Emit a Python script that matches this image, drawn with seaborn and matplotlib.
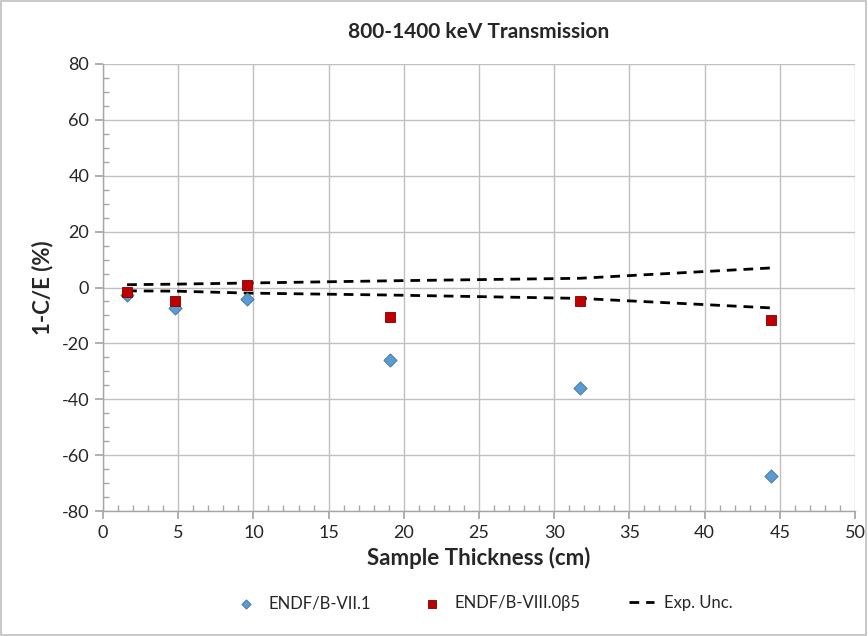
import matplotlib
matplotlib.use("Agg")
import matplotlib.pyplot as plt
import seaborn as sns
import pandas as pd
from matplotlib.ticker import MultipleLocator
from matplotlib.patches import Rectangle

thickness = [1.6, 4.8, 9.6, 19.1, 31.7, 44.4]
endf71 = [-2.7, -7.3, -4.1, -26.0, -36.0, -67.6]
endf80 = [-1.6, -4.8, 1.0, -10.5, -4.8, -11.6]
unc_upper = [1.0, 1.2, 1.6, 2.4, 3.3, 7.0]
unc_lower = [-1.2, -1.3, -2.0, -2.7, -3.9, -7.3]

sns.set_theme(style="white")
plt.rcParams['font.family'] = ['Lato', 'DejaVu Sans']
plt.rcParams['axes.unicode_minus'] = False

fig = plt.figure(figsize=(8.68, 6.36), dpi=100)
ax = fig.add_axes([0.1187, 0.1965, 0.8663, 0.7029])

df71 = pd.DataFrame({"x": thickness, "y": endf71})
df80 = pd.DataFrame({"x": thickness, "y": endf80})
dfu = pd.DataFrame({"x": thickness, "y": unc_upper})
dfl = pd.DataFrame({"x": thickness, "y": unc_lower})

sns.lineplot(data=dfu, x="x", y="y", ax=ax, color="black", lw=2.0,
             linestyle=(0, (3.5, 2.5)), label="Exp. Unc.", zorder=3)
sns.lineplot(data=dfl, x="x", y="y", ax=ax, color="black", lw=2.0,
             linestyle=(0, (3.5, 2.5)), label="_nolegend_", zorder=3)
sns.scatterplot(data=df71, x="x", y="y", ax=ax, marker="D", s=45,
                color="#5B9BD5", edgecolor="#41719C", linewidth=0.6,
                label="ENDF/B-VII.1", zorder=4)
sns.scatterplot(data=df80, x="x", y="y", ax=ax, marker="s", s=60,
                color="#C00000", edgecolor="#7F0000", linewidth=0.6,
                label="ENDF/B-VIII.0\u03b25", zorder=5)

ax.set_xlim(0, 50)
ax.set_ylim(-80, 80)
ax.xaxis.set_major_locator(MultipleLocator(5))
ax.xaxis.set_minor_locator(MultipleLocator(1))
ax.yaxis.set_major_locator(MultipleLocator(20))
ax.yaxis.set_minor_locator(MultipleLocator(5))
ax.grid(True, which="major", color="#c0c0c0", lw=1.0)
ax.set_axisbelow(True)
for s in ["top", "right"]:
    ax.spines[s].set_visible(False)
for s in ["left", "bottom"]:
    ax.spines[s].set_color("#a6a6a6")
    ax.spines[s].set_linewidth(1.0)
ax.tick_params(which="major", direction="out", length=6, color="#a6a6a6",
               labelsize=13, left=True, bottom=True, pad=4)
ax.tick_params(which="minor", direction="in", length=4, color="#a6a6a6",
               left=True, bottom=True)
ax.set_xlabel("Sample Thickness (cm)", fontsize=16, fontweight="bold", labelpad=4)
ax.set_ylabel("1-C/E (%)", fontsize=16, fontweight="bold", labelpad=6)
ax.set_title("800-1400 keV Transmission", fontsize=15, fontweight="bold", pad=19)

handles, labels = ax.get_legend_handles_labels()
order = [labels.index("ENDF/B-VII.1"), labels.index("ENDF/B-VIII.0\u03b25"), labels.index("Exp. Unc.")]
leg = ax.legend([handles[i] for i in order], [labels[i] for i in order],
                loc="upper center", bbox_to_anchor=(0.505, -0.155), ncol=3,
                frameon=False, fontsize=12, columnspacing=2.9, handlelength=1.5,
                handletextpad=0.6, markerscale=0.7)

fig.patches.append(Rectangle((0.001, 0.001), 0.997, 0.997, transform=fig.transFigure,
                             fill=False, edgecolor="#bfbfbf", lw=1.2))

fig.savefig("out.png", dpi=100)
